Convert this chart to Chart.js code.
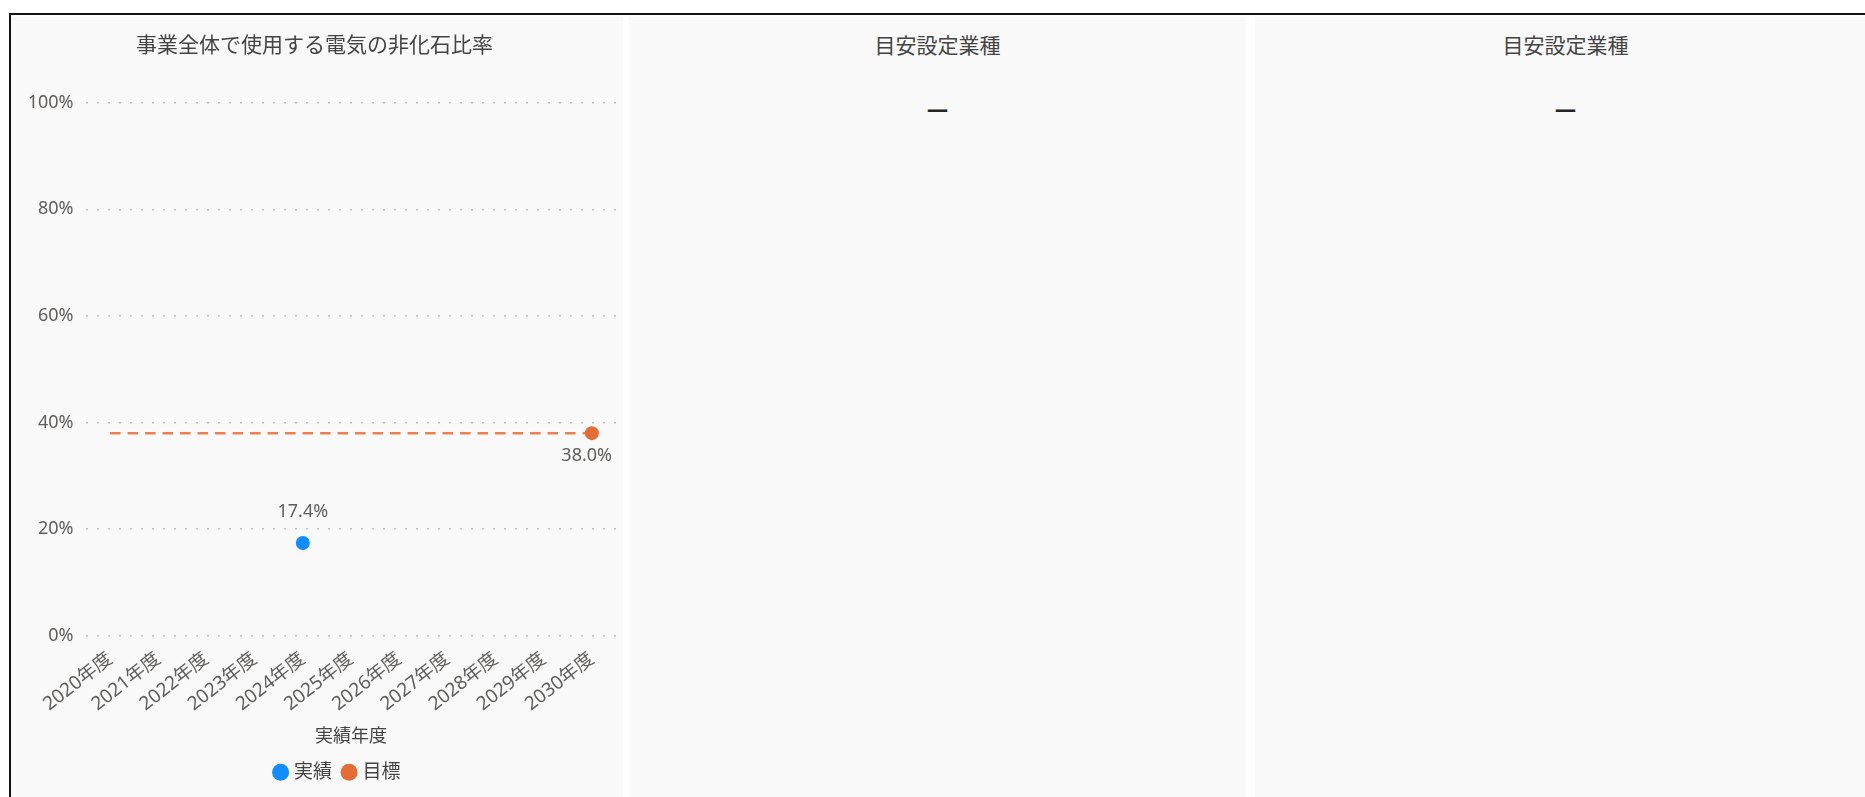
<!DOCTYPE html>
<html lang="ja">
<head>
<meta charset="utf-8">
<title>事業全体で使用する電気の非化石比率</title>
<script src="https://cdn.jsdelivr.net/npm/chart.js@4.4.1/dist/chart.umd.min.js"></script>
<style>
  html, body {
    margin: 0; padding: 0; background: #ffffff;
    width: 1865px; height: 797px; overflow: hidden;
    font-family: 'Noto Sans', 'Noto Sans CJK JP', sans-serif;
  }
  .frame {
    position: absolute; left: 9px; top: 13px; width: 1900px; height: 800px;
    border-top: 2px solid #111; border-left: 2px solid #111;
  }
  .panel { position: absolute; top: 17px; height: 780px; background: #f9f9f9; }
  #p1 { left: 11px; width: 612px; }
  #p2 { left: 629px; width: 617px; }
  #p3 { left: 1255px; width: 621px; }
  .ptitle {
    position: absolute; left: 0; right: 0; top: 15px; line-height: 25px;
    text-align: center; font-size: 21px; color: #444;
    font-family: 'Noto Sans CJK JP', 'Noto Sans', sans-serif;
  }
  .pvalue {
    position: absolute; left: 0; right: 0; top: 78px; line-height: 28px;
    text-align: center; font-size: 21px; font-weight: 700; color: #252423;
  }
  #chart1 { position: absolute; left: 0; top: 0; }
</style>
</head>
<body>
<div class="panel" id="p1"><canvas id="chart1" width="612" height="780"></canvas></div>
<div class="panel" id="p2"><div class="ptitle"></div><div class="pvalue"></div></div>
<div class="panel" id="p3"><div class="ptitle"></div><div class="pvalue"></div></div>
<div class="frame"></div>
<script>
// Fiscal years on the x axis
const categories = ['2020年度', '2021年度', '2022年度', '2023年度', '2024年度', '2025年度',
                    '2026年度', '2027年度', '2028年度', '2029年度', '2030年度'];
// Non-fossil share of electricity (%), actual results
const actualValues = [null, null, null, null, 17.4, null, null, null, null, null, null];
// Target (%), drawn as a dashed line out to the 2030 goal
const targetValues = [38.0, null, null, null, null, null, null, null, null, null, 38.0];
// Marker shown only where the target is reached
const targetMarkers = [0, 0, 0, 0, 0, 0, 0, 0, 0, 0, 7];
const yTicks = [0, 20, 40, 60, 80, 100];
const seriesNames = ['実績', '目標'];
const chartTitle = '事業全体で使用する電気の非化石比率';
const xAxisTitle = '実績年度';
const sidePanelTitles = ['目安設定業種', '目安設定業種'];
const sidePanelValues = ['—', '—'];

// Side cards
document.querySelectorAll('#p2, #p3').forEach((el, i) => {
  el.querySelector('.ptitle').textContent = sidePanelTitles[i];
  el.querySelector('.pvalue').textContent = sidePanelValues[i];
});

const FONT = "'Noto Sans', 'Noto Sans CJK JP', sans-serif";
const TEXT_GREY = '#605e5c';

// Value labels next to the visible markers
const valueLabels = {
  id: 'valueLabels',
  afterDatasetsDraw(chart) {
    const { ctx, chartArea } = chart;
    ctx.save();
    ctx.font = '18px ' + FONT;
    ctx.fillStyle = TEXT_GREY;
    ctx.textAlign = 'center';
    ctx.textBaseline = 'middle';
    chart.data.datasets.forEach((ds, di) => {
      const meta = chart.getDatasetMeta(di);
      meta.data.forEach((pt, i) => {
        const v = ds.data[i];
        const r = Array.isArray(ds.pointRadius) ? ds.pointRadius[i] : ds.pointRadius;
        if (v == null || !r) return;
        const text = v.toFixed(1) + '%';
        const half = ctx.measureText(text).width / 2;
        const x = Math.min(pt.x, chartArea.right - 4 - half);
        const y = ds.labelPosition === 'below' ? pt.y + 23 : pt.y - 31;
        ctx.fillText(text, x, y);
      });
    });
    ctx.restore();
  }
};

// Nudge the legend row to the right
const legendOffset = {
  id: 'legendOffset',
  afterLayout(chart) {
    chart.legend.left += 24;
    chart.legend.right += 24;
  }
};

new Chart(document.getElementById('chart1'), {
  type: 'line',
  data: {
    labels: categories,
    datasets: [
      {
        label: seriesNames[0],
        data: actualValues,
        showLine: false,
        pointRadius: 7,
        pointHoverRadius: 7,
        pointBorderWidth: 0,
        backgroundColor: '#118DFF',
        borderColor: '#118DFF',
        labelPosition: 'above'
      },
      {
        label: seriesNames[1],
        data: targetValues,
        spanGaps: true,
        borderColor: '#ec8150',
        borderWidth: 2.5,
        borderDash: [10.5, 7],
        backgroundColor: '#E66C37',
        pointBackgroundColor: '#E66C37',
        pointBorderWidth: 0,
        pointRadius: targetMarkers,
        pointHoverRadius: targetMarkers,
        fill: false,
        labelPosition: 'below'
      }
    ]
  },
  options: {
    responsive: false,
    animation: false,
    events: [],
    layout: { padding: { top: 0, right: 4.8, bottom: 5.3, left: 0 } },
    scales: {
      x: {
        type: 'category',
        offset: true,
        grid: { display: false, drawTicks: false },
        border: { display: false },
        ticks: {
          autoSkip: false,
          minRotation: 38,
          maxRotation: 38,
          padding: 12,
          color: TEXT_GREY,
          font: { family: FONT, size: 19 }
        },
        title: {
          display: true,
          text: xAxisTitle,
          color: '#444',
          font: { family: FONT, size: 18 },
          padding: { top: 0, bottom: 2 }
        },
        afterFit(scale) {
          scale.height = 114;
          scale.paddingLeft = 0;
          scale.paddingRight = 0;
        }
      },
      y: {
        min: 0,
        max: 100,
        grid: { color: '#c4c2c0', lineWidth: 1.5, drawTicks: false },
        border: { display: false, dash: [2, 9] },
        afterBuildTicks(scale) { scale.ticks = yTicks.map(v => ({ value: v })); },
        ticks: {
          padding: 12.5,
          color: TEXT_GREY,
          font: { family: FONT, size: 18 },
          callback: v => v + '%'
        },
        afterFit(scale) { scale.width = 75; }
      }
    },
    plugins: {
      title: {
        display: true,
        text: chartTitle,
        color: '#444',
        font: { family: FONT, size: 21, weight: 'normal' },
        padding: { top: 16, bottom: 44.5 }
      },
      legend: {
        position: 'bottom',
        labels: {
          usePointStyle: true,
          pointStyle: 'circle',
          boxWidth: 8,
          boxHeight: 12,
          padding: 13,
          color: '#444',
          font: { family: FONT, size: 19 },
          generateLabels(chart) {
            const items = Chart.defaults.plugins.legend.labels.generateLabels(chart);
            items.forEach(it => { it.lineWidth = 0; it.lineDash = []; });
            return items;
          }
        }
      },
      tooltip: { enabled: false }
    }
  },
  plugins: [valueLabels, legendOffset]
});
</script>
</body>
</html>
